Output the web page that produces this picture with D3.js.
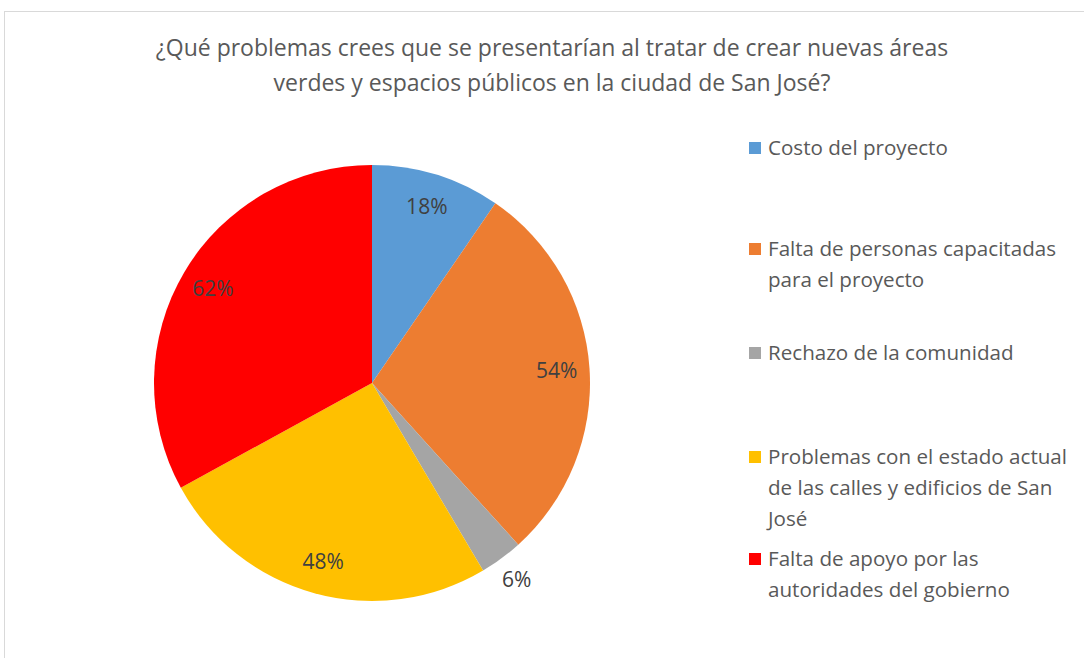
<!DOCTYPE html>
<html>
<head>
<meta charset="utf-8">
<script src="https://cdn.jsdelivr.net/npm/d3@7"></script>
<style>
  body { margin: 0; background: #fff; }
  svg { display: block; font-family: "Open Sans", sans-serif; }
</style>
</head>
<body>
<div id="chart"></div>
<script>
const categories = [
  "Costo del proyecto",
  "Falta de personas capacitadas para el proyecto",
  "Rechazo de la comunidad",
  "Problemas con el estado actual de las calles y edificios de San José",
  "Falta de apoyo por las autoridades del gobierno"
];
const values = [18, 54, 6, 48, 62];
const labels = ["18%", "54%", "6%", "48%", "62%"];
const colors = ["#5b9bd5", "#ed7d31", "#a5a5a5", "#ffc000", "#ff0000"];
const legendLines = [
  ["Costo del proyecto"],
  ["Falta de personas capacitadas", "para el proyecto"],
  ["Rechazo de la comunidad"],
  ["Problemas con el estado actual", "de las calles y edificios de San", "José"],
  ["Falta de apoyo por las", "autoridades del gobierno"]
];
const titleLines = [
  "¿Qué problemas crees que se presentarían al tratar de crear nuevas áreas",
  "verdes y espacios públicos en la ciudad de San José?"
];

const width = 1084, height = 658;
const cx = 372, cy = 383, radius = 218;

const svg = d3.select("#chart").append("svg")
    .attr("width", width)
    .attr("height", height);

//chart frame, runs off the right and bottom edge
svg.append("rect")
    .attr("x", 4.5).attr("y", 11.5)
    .attr("width", width + 20).attr("height", height + 20)
    .attr("fill", "#fff")
    .attr("stroke", "#d9d9d9");

svg.append("g").selectAll("text")
    .data(titleLines)
    .enter().append("text")
    .attr("x", 552)
    .attr("y", (d, i) => 56 + i * 35)
    .attr("text-anchor", "middle")
    .attr("fill", "#595959")
    .style("font-size", "23px")
    .text(d => d);

const data = categories.map((c, i) => ({ name: c, value: values[i], label: labels[i], color: colors[i] }));
const total = d3.sum(values);

const pie = d3.pie().sort(null).value(d => d.value);
const arc = d3.arc().innerRadius(0).outerRadius(radius);
const inLabel = d3.arc().innerRadius(185).outerRadius(185);
const outLabel = d3.arc().innerRadius(244).outerRadius(244);

const g = svg.append("g").attr("transform", `translate(${cx},${cy})`);

const slices = g.selectAll(".slice")
    .data(pie(data))
    .enter().append("g")
    .attr("class", "slice");

slices.append("path")
    .attr("d", arc)
    .attr("fill", d => d.data.color);

//small slices get their label outside the pie
slices.append("text")
    .attr("transform", d => {
      const a = d.data.value / total < 0.05 ? outLabel : inLabel;
      return "translate(" + a.centroid(d) + ")";
    })
    .attr("text-anchor", "middle")
    .attr("dy", "0.35em")
    .attr("fill", "#404040")
    .style("font-size", "21px")
    .text(d => d.data.label);

const legendY = [148, 249, 353, 457, 559];
const legend = svg.append("g").selectAll("g")
    .data(data)
    .enter().append("g")
    .attr("transform", (d, i) => `translate(749,${legendY[i]})`);

legend.append("rect")
    .attr("x", 0).attr("y", -6)
    .attr("width", 12).attr("height", 12)
    .attr("fill", d => d.color);

legend.append("text")
    .attr("fill", "#595959")
    .style("font-size", "20.6px")
    .selectAll("tspan")
    .data((d, i) => legendLines[i])
    .enter().append("tspan")
    .attr("x", 19)
    .attr("y", (d, j) => j * 31)
    .attr("dy", "0.35em")
    .text(d => d);
</script>
</body>
</html>
